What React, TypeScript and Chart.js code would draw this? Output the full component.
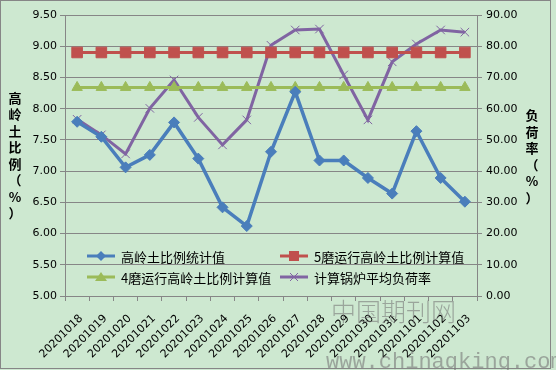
import React, { useEffect, useRef } from 'react';
import { Chart, registerables } from 'chart.js';

Chart.register(...registerables);

const categories = [
  '20201018', '20201019', '20201020', '20201021', '20201022', '20201023',
  '20201024', '20201025', '20201026', '20201027', '20201028', '20201029',
  '20201030', '20201031', '20201101', '20201102', '20201103',
];

const seriesNames = ['高岭土比例统计值', '5磨运行高岭土比例计算值', '4磨运行高岭土比例计算值', '计算锅炉平均负荷率'];

const kaolinStat = [7.79, 7.55, 7.06, 7.26, 7.78, 7.20, 6.42, 6.12, 7.31, 8.27, 7.17, 7.17, 6.89, 6.64, 7.64, 6.89, 6.51];
const calc5Mill = [8.90, 8.90, 8.90, 8.90, 8.90, 8.90, 8.90, 8.90, 8.90, 8.90, 8.90, 8.90, 8.90, 8.90, 8.90, 8.90, 8.90];
const calc4Mill = [8.34, 8.34, 8.34, 8.34, 8.34, 8.34, 8.34, 8.34, 8.34, 8.34, 8.34, 8.34, 8.34, 8.34, 8.34, 8.34, 8.34];
const loadRate = [56.6, 51.6, 45.5, 60.1, 69.2, 57.2, 48.4, 56.4, 80.3, 85.2, 85.5, 70.8, 56.4, 75.0, 80.7, 85.2, 84.5];

const leftAxisTitle = '高岭土比例（%）';
const rightAxisTitle = '负荷率（%）';
const leftAxisRange = { min: 5, max: 9.5, step: 0.5 };
const rightAxisRange = { min: 0, max: 90, step: 10 };
const watermarkCn = '中国期刊网';
const watermarkUrl = 'www.chinaqking.com';

const BG = '#cde8d0';
const GRID = '#868686';
const BLUE = '#4a7ebb';
const RED = '#c0504d';
const GREEN = '#9bbb59';
const PURPLE = '#8064a2';
const TICK_FONT = '"DejaVu Sans", "Noto Sans CJK SC", sans-serif';
const CJK_FONT = '"Noto Sans CJK SC", "DejaVu Sans", sans-serif';

function drawMarker(ctx: CanvasRenderingContext2D, style: string, x: number, y: number, color: string) {
  ctx.save();
  ctx.fillStyle = color;
  ctx.strokeStyle = color;
  ctx.beginPath();
  if (style === 'diamond') {
    ctx.moveTo(x, y - 5); ctx.lineTo(x + 5, y); ctx.lineTo(x, y + 5); ctx.lineTo(x - 5, y); ctx.closePath(); ctx.fill();
  } else if (style === 'square') {
    ctx.rect(x - 5, y - 5, 10, 10); ctx.fill();
  } else if (style === 'triangle') {
    ctx.moveTo(x, y - 5); ctx.lineTo(x + 6, y + 4); ctx.lineTo(x - 6, y + 4); ctx.closePath(); ctx.fill();
  } else {
    ctx.lineWidth = 1;
    ctx.moveTo(x - 4, y - 4); ctx.lineTo(x + 4, y + 4); ctx.moveTo(x + 4, y - 4); ctx.lineTo(x - 4, y + 4); ctx.stroke();
  }
  ctx.restore();
}

const bgPlugin = {
  id: 'bgPlugin',
  beforeDraw(chart: any) {
    const ctx = chart.ctx as CanvasRenderingContext2D;
    ctx.save();
    ctx.fillStyle = BG;
    ctx.fillRect(0, 0, chart.width, chart.height);
    ctx.restore();
  },
};

const decorPlugin = {
  id: 'decorPlugin',
  afterDraw(chart: any) {
    const ctx = chart.ctx as CanvasRenderingContext2D;
    ctx.save();
    // outer border
    ctx.strokeStyle = GRID;
    ctx.lineWidth = 1;
    ctx.strokeRect(0.5, 0.5, 550, 368);

    // axis titles (stacked characters)
    ctx.fillStyle = '#000';
    ctx.font = `bold 13px ${CJK_FONT}`;
    ctx.textAlign = 'center';
    ctx.textBaseline = 'middle';
    Array.from(leftAxisTitle).forEach((ch, i) => ctx.fillText(ch, 15, 98 + i * 16.5));
    Array.from(rightAxisTitle).forEach((ch, i) => ctx.fillText(ch, 532, 115 + i * 16.6));

    // legend
    const styles = ['diamond', 'square', 'triangle', 'cross'];
    const colors = [BLUE, RED, GREEN, PURPLE];
    const pos = [[87, 256], [280, 256], [87, 277], [280, 277]];
    ctx.font = `13px ${CJK_FONT}`;
    ctx.textAlign = 'left';
    seriesNames.forEach((name, i) => {
      const [x, y] = pos[i];
      ctx.strokeStyle = colors[i];
      ctx.lineWidth = 3;
      ctx.beginPath();
      ctx.moveTo(x, y);
      ctx.lineTo(x + 28, y);
      ctx.stroke();
      drawMarker(ctx, styles[i], x + 14, y, colors[i]);
      ctx.fillStyle = '#000';
      ctx.fillText(name, x + 34, y + 1);
    });

    // watermark
    ctx.fillStyle = 'rgba(120,120,120,0.6)';
    ctx.font = `300 25px ${CJK_FONT}`;
    ctx.textBaseline = 'alphabetic';
    ctx.fillText(watermarkCn, 331, 321);
    ctx.font = `22px "Liberation Mono", "DejaVu Sans Mono", monospace`;
    ctx.fillText(watermarkUrl, 326, 368);
    ctx.restore();
  },
};

export default function App() {
  const ref = useRef<HTMLCanvasElement>(null);
  useEffect(() => {
    document.body.style.margin = '0';
    const canvas = ref.current!;
    const fmt = (v: any) => Number(v).toFixed(2);
    const chart = new Chart(canvas, {
      type: 'line',
      data: {
        labels: categories,
        datasets: [
          {
            label: seriesNames[0], data: kaolinStat, yAxisID: 'y',
            borderColor: BLUE, backgroundColor: BLUE, borderWidth: 3.5,
            pointStyle: 'rectRot', pointRadius: 5.5, pointBorderWidth: 1, tension: 0,
          },
          {
            label: seriesNames[1], data: calc5Mill, yAxisID: 'y',
            borderColor: RED, backgroundColor: RED, borderWidth: 3,
            pointStyle: 'rect', pointRadius: 7.5, pointBorderWidth: 1, tension: 0,
          },
          {
            label: seriesNames[2], data: calc4Mill, yAxisID: 'y',
            borderColor: GREEN, backgroundColor: GREEN, borderWidth: 3,
            pointStyle: 'triangle', pointRadius: 6, pointBorderWidth: 1, tension: 0,
          },
          {
            label: seriesNames[3], data: loadRate, yAxisID: 'y1',
            borderColor: PURPLE, backgroundColor: PURPLE, borderWidth: 3,
            pointStyle: 'crossRot', pointRadius: 6, pointBorderWidth: 1, tension: 0,
          },
        ],
      },
      options: {
        responsive: false,
        animation: false,
        events: [],
        layout: { padding: { top: 15, left: 0, right: 0, bottom: 0 } },
        plugins: { legend: { display: false }, tooltip: { enabled: false } },
        scales: {
          x: {
            offset: true,
            grid: { display: true, drawOnChartArea: false, drawTicks: true, tickLength: 5, offset: true, color: GRID },
            border: { color: GRID },
            ticks: { minRotation: 45, maxRotation: 45, autoSkip: false, color: '#000', font: { family: TICK_FONT, size: 11 }, padding: 11, labelOffset: 4 },
            afterFit: (s: any) => { s.height = 74; s.paddingLeft = 0; s.paddingRight = 0; },
          },
          y: {
            position: 'left',
            min: leftAxisRange.min, max: leftAxisRange.max,
            ticks: { stepSize: leftAxisRange.step, callback: fmt, color: '#000', font: { family: TICK_FONT, size: 11 }, padding: 3 },
            grid: { color: GRID, tickLength: 5 },
            border: { color: GRID },
            afterFit: (s: any) => { s.width = 65; s.paddingTop = 0; s.paddingBottom = 0; },
          },
          y1: {
            position: 'right',
            min: rightAxisRange.min, max: rightAxisRange.max,
            ticks: { stepSize: rightAxisRange.step, callback: fmt, color: '#000', font: { family: TICK_FONT, size: 11 }, padding: 4 },
            grid: { drawOnChartArea: false, color: GRID, tickLength: 5 },
            border: { color: GRID },
            afterFit: (s: any) => { s.width = 79; s.paddingTop = 0; s.paddingBottom = 0; },
          },
        },
      },
      plugins: [bgPlugin, decorPlugin],
    } as any);
    return () => chart.destroy();
  }, []);
  return <canvas ref={ref} width={556} height={370} style={{ display: 'block' }} />;
}
